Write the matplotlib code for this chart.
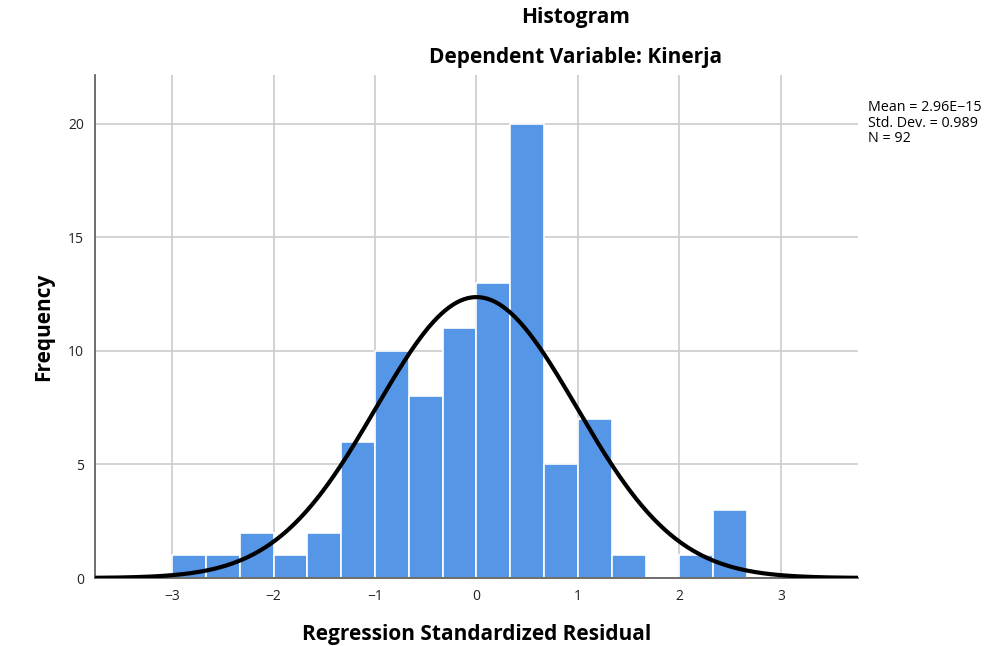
import numpy as np
import matplotlib
matplotlib.use("Agg")
import matplotlib.pyplot as plt

bin_edges = [-3.0, -2.6667, -2.3333, -2.0, -1.6667, -1.3333, -1.0, -0.6667, -0.3333,
             0.0, 0.3333, 0.6667, 1.0, 1.3333, 1.6667, 2.0, 2.3333, 2.6667]
counts = [1, 1, 2, 1, 2, 6, 10, 8, 11, 13, 20, 5, 7, 1, 0, 1, 3]
mean = 2.96e-15
std = 0.989
n = 92
xticks = [-3, -2, -1, 0, 1, 2, 3]
yticks = [0, 5, 10, 15, 20]

plt.rcParams['font.family'] = ['Open Sans', 'DejaVu Sans']

fig = plt.figure(figsize=(9.96, 6.46), dpi=100)
ax = fig.add_axes([95/996, 68/646, (858-95)/996, (578-75)/646])

lefts = np.array(bin_edges[:-1])
widths = np.diff(bin_edges)
ax.bar(lefts, counts, width=widths, align='edge', color='#5596E6',
       edgecolor='white', linewidth=1.2, zorder=2)

xs = np.linspace(-3.76, 3.76, 400)
bw = widths.mean()
ys = n * bw / (std * np.sqrt(2 * np.pi)) * np.exp(-0.5 * ((xs - mean) / std) ** 2)
ax.plot(xs, ys, color='black', linewidth=3, zorder=3)

ax.set_xlim(-3.76, 3.76)
ax.set_ylim(0, 22.15)
ax.set_xticks(xticks)
ax.set_xticklabels(['\u2212' + str(-t) if t < 0 else str(t) for t in xticks])
ax.set_yticks(yticks)
ax.grid(True, color='#cccccc', linewidth=1.2, zorder=0)
ax.set_axisbelow(True)
ax.tick_params(length=0, labelsize=10, colors='#222222', pad=8)
for s in ['top', 'right']:
    ax.spines[s].set_visible(False)
for s in ['left', 'bottom']:
    ax.spines[s].set_color('#555555')
    ax.spines[s].set_linewidth(1.2)

ax.set_xlabel('Regression Standardized Residual', fontsize=15, fontweight='bold', labelpad=14)
ax.set_ylabel('Frequency', fontsize=15, fontweight='bold', labelpad=10)

fig.text(576/996, 1 - 18/646, 'Histogram', ha='center', va='center', fontsize=15, fontweight='bold')
fig.text(576/996, 1 - 57/646, 'Dependent Variable: Kinerja', ha='center', va='center', fontsize=15, fontweight='bold')

fig.text(868/996, 1 - 100/646, 'Mean = 2.96E\u221215\nStd. Dev. = 0.989\nN = 92',
         ha='left', va='top', fontsize=10.3, linespacing=1.05)

fig.savefig('out.png', dpi=100)
